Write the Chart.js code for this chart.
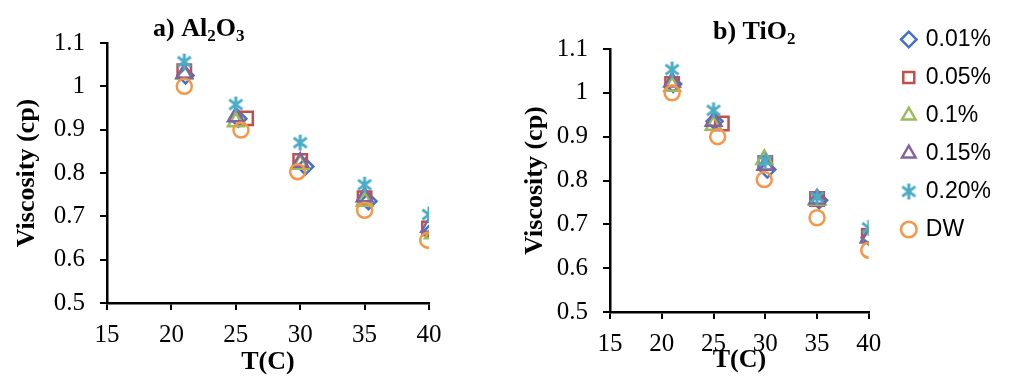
<!DOCTYPE html>
<html>
<head>
<meta charset="utf-8">
<script src="https://cdn.jsdelivr.net/npm/chart.js@4/dist/chart.umd.min.js"></script>
<style>
  html, body { margin: 0; padding: 0; background: #fff; }
  #wrap { position: relative; width: 1011px; height: 378px; overflow: hidden; }
  canvas { position: absolute; top: 0; }
  #cA { left: 0; }
  #cB { left: 260px; }
</style>
</head>
<body>
<div id="wrap">
  <canvas id="cA" width="470" height="378"></canvas>
  <canvas id="cB" width="751" height="378"></canvas>
</div>
<script>
// ---------- data ----------
const seriesNames = ['0.01%', '0.05%', '0.1%', '0.15%', '0.20%', 'DW'];
const xTicks = [15, 20, 25, 30, 35, 40];
const yTicks = [0.5, 0.6, 0.7, 0.8, 0.9, 1.0, 1.1];
const xAxisTitle = 'T(C)';
const yAxisTitle = 'Viscosity (cp)';

// a) Al2O3 — temperatures (as plotted) and viscosities per series
const alT_001 = [21.1, 25.2, 30.4, 35.3, 40.2];
const alV_001 = [1.025, 0.925, 0.815, 0.735, 0.665];
const alT_005 = [21.0, 25.8, 30.0, 35.0, 40.0];
const alV_005 = [1.035, 0.926, 0.828, 0.742, 0.672];
const alT_01  = [21.0, 25.0, 30.0, 35.0, 40.3];
const alV_01  = [1.028, 0.918, 0.820, 0.735, 0.660];
const alT_015 = [21.0, 25.0, 30.0, 35.0, 40.0];
const alV_015 = [1.030, 0.930, 0.825, 0.745, 0.675];
const alT_020 = [21.0, 25.0, 30.0, 35.0, 40.0];
const alV_020 = [1.057, 0.958, 0.870, 0.773, 0.704];
const alT_DW  = [21.0, 25.4, 29.8, 35.0, 39.9];
const alV_DW  = [1.000, 0.899, 0.803, 0.714, 0.645];

// b) TiO2
const tiT_001 = [21.1, 25.1, 30.2, 35.2, 40.1];
const tiV_001 = [1.020, 0.935, 0.825, 0.755, 0.670];
const tiT_005 = [21.0, 25.8, 30.0, 35.0, 40.0];
const tiV_005 = [1.020, 0.930, 0.840, 0.758, 0.674];
const tiT_01  = [21.0, 25.0, 29.9, 35.0, 40.0];
const tiV_01  = [1.015, 0.926, 0.848, 0.755, 0.668];
const tiT_015 = [21.0, 25.0, 30.0, 35.0, 40.0];
const tiV_015 = [1.025, 0.935, 0.835, 0.758, 0.670];
const tiT_020 = [21.0, 25.0, 30.0, 35.0, 40.0];
const tiV_020 = [1.053, 0.960, 0.845, 0.762, 0.692];
const tiT_DW  = [21.0, 25.4, 29.9, 35.0, 40.0];
const tiV_DW  = [1.000, 0.900, 0.802, 0.715, 0.641];

// ---------- styles ----------
const colors = ['#4472C4', '#C0504D', '#9BBB59', '#8064A2', '#4BACC6', '#F79646'];
const SERIF = "'Liberation Serif'";
const SANS = "'Liberation Sans'";

function makeStar(color, size, lw) {
  const c = document.createElement('canvas');
  c.width = size; c.height = size;
  const g = c.getContext('2d');
  g.strokeStyle = color; g.lineWidth = lw; g.lineCap = 'butt';
  const m = size / 2, r = size / 2 - 1;
  const d = r * 0.82;
  g.beginPath();
  g.moveTo(m, m - r); g.lineTo(m, m + r);
  g.moveTo(m - d, m - d * 0.75); g.lineTo(m + d, m + d * 0.75);
  g.moveTo(m + d, m - d * 0.75); g.lineTo(m - d, m + d * 0.75);
  g.stroke();
  return c;
}

function toPts(xs, ys) { return xs.map((x, i) => ({ x: x, y: ys[i] })); }

const panelTitle = {
  id: 'panelTitle',
  afterDraw(chart, args, opts) {
    if (!opts || !opts.parts) return;
    const ctx = chart.ctx;
    ctx.save();
    ctx.fillStyle = '#000';
    ctx.textBaseline = 'alphabetic';
    ctx.textAlign = 'left';
    let x = opts.x;
    for (const [txt, sub] of opts.parts) {
      ctx.font = 'bold ' + (sub ? opts.subSize : opts.size) + 'px ' + SERIF;
      ctx.fillText(txt, x, sub ? opts.y + opts.subShift : opts.y);
      x += ctx.measureText(txt).width;
    }
    ctx.restore();
  }
};

function build() {
  const starImg = makeStar(colors[4], 18, 3);
  const pointStyles = ['rectRot', 'rect', 'triangle', 'triangle', starImg, 'circle'];
  const pointRadii = [8, 9.5, 9, 9, 9, 7.5];

  function makeDatasets(pairs) {
    return pairs.map((p, i) => ({
      label: seriesNames[i],
      data: toPts(p[0], p[1]),
      showLine: false,
      pointStyle: pointStyles[i],
      pointRadius: pointRadii[i],
      pointHoverRadius: pointRadii[i],
      pointBorderWidth: 2.5,
      borderWidth: 2.5,
      pointBorderColor: colors[i],
      borderColor: colors[i],
      pointBackgroundColor: 'rgba(255,255,255,0)',
      backgroundColor: 'rgba(255,255,255,0)',
      order: pairs.length - i
    }));
  }

  function axes(yWidth, yTitlePad, xHeight, xTitlePad) {
    const tickFont = { family: SERIF, size: 25 };
    const titleFont = { family: SERIF, size: 26, weight: 'bold' };
    return {
      x: {
        type: 'linear', min: 15, max: 40,
        afterBuildTicks(s) { s.ticks = xTicks.map(v => ({ value: v })); },
        afterFit(s) { s.height = xHeight; },
        ticks: { font: tickFont, color: '#000', padding: 10, maxRotation: 0, callback: v => String(v) },
        grid: { display: true, drawOnChartArea: false, drawTicks: true, tickLength: 7, color: '#000', lineWidth: 2 },
        border: { display: true, color: '#000', width: 2.5 },
        title: { display: true, text: xAxisTitle, font: titleFont, color: '#000', padding: { top: 0, bottom: xTitlePad } }
      },
      y: {
        type: 'linear', min: 0.5, max: 1.1,
        afterBuildTicks(s) { s.ticks = yTicks.map(v => ({ value: v })); },
        afterFit(s) { s.width = yWidth; },
        ticks: { font: tickFont, color: '#000', padding: 15, callback: v => String(Math.round(v * 10) / 10) },
        grid: { display: true, drawOnChartArea: false, drawTicks: true, tickLength: 7, color: '#000', lineWidth: 2 },
        border: { display: true, color: '#000', width: 2.5 },
        title: { display: true, text: yAxisTitle, font: titleFont, color: '#000', padding: { top: yTitlePad, bottom: 0 } }
      }
    };
  }

  Chart.register(panelTitle);

  new Chart(document.getElementById('cA'), {
    type: 'scatter',
    data: {
      datasets: makeDatasets([
        [alT_001, alV_001], [alT_005, alV_005], [alT_01, alV_01],
        [alT_015, alV_015], [alT_020, alV_020], [alT_DW, alV_DW]
      ])
    },
    options: {
      responsive: false, animation: false, devicePixelRatio: 1,
      layout: { padding: { top: 43, right: 41, left: 0, bottom: 0 } },
      scales: axes(107, 12, 75, 0),
      plugins: {
        legend: { display: false },
        tooltip: { enabled: false },
        panelTitle: { parts: [['a) Al', false], ['2', true], ['O', false], ['3', true]], x: 153, y: 36, size: 26, subSize: 17, subShift: 5 }
      }
    }
  });

  const bScales = axes(350, 260, 66, 2);
  bScales.gap = {
    type: 'linear', position: 'right', display: true,
    afterFit(s) { s.width = 19.5; },
    ticks: { display: false }, grid: { display: false }, border: { display: false }, title: { display: false }
  };
  new Chart(document.getElementById('cB'), {
    type: 'scatter',
    data: {
      datasets: makeDatasets([
        [tiT_001, tiV_001], [tiT_005, tiV_005], [tiT_01, tiV_01],
        [tiT_015, tiV_015], [tiT_020, tiV_020], [tiT_DW, tiV_DW]
      ])
    },
    options: {
      responsive: false, animation: false, devicePixelRatio: 1,
      layout: { padding: { top: 13, right: 10, left: 0, bottom: 0 } },
      scales: bScales,
      plugins: {
        title: { display: true, text: ' ', fullSize: false, font: { size: 30, lineHeight: 1.2 }, padding: { top: 0, bottom: 0 } },
        legend: {
          display: true, position: 'right', align: 'start',
          labels: {
            usePointStyle: true, boxWidth: 11, boxHeight: 11, padding: 15,
            font: { family: SANS, size: 23 }, color: '#000',
            sort: (a, b) => a.datasetIndex - b.datasetIndex
          }
        },
        tooltip: { enabled: false },
        panelTitle: { parts: [['b) TiO', false], ['2', true]], x: 453, y: 39, size: 26, subSize: 17, subShift: 5 }
      }
    }
  });
}

const fontLoads = document.fonts ? Promise.all([
  document.fonts.load("25px 'Liberation Serif'"),
  document.fonts.load("bold 26px 'Liberation Serif'"),
  document.fonts.load("23px 'Liberation Sans'")
]).catch(() => null) : Promise.resolve();
fontLoads.then(build, build);
</script>
</body>
</html>
